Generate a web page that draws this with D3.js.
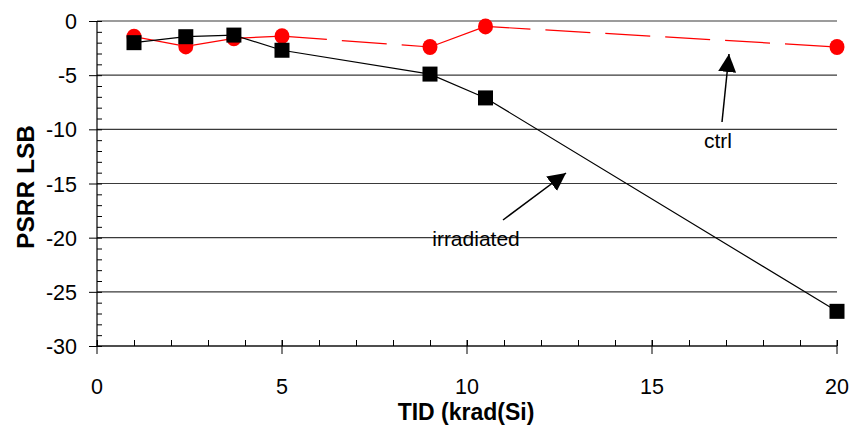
<!DOCTYPE html>
<html>
<head>
<meta charset="utf-8">
<script src="https://cdn.jsdelivr.net/npm/d3@7"></script>
<style>
  html, body { margin: 0; padding: 0; background: #fff; }
  svg { display: block; font-family: Arial, "Liberation Sans", sans-serif; }
</style>
</head>
<body>
<div id="chart"></div>
<script>
// TID dose points (krad(Si))
var tid = [1, 2.4, 3.7, 5, 9, 10.5, 20];
// PSRR LSB readings
var irradiated = [-2.0, -1.45, -1.3, -2.7, -4.9, -7.1, -26.8];
var ctrl = [-1.45, -2.35, -1.6, -1.4, -2.4, -0.5, -2.4];
// ctrl segments that bridge a gap between measurements (drawn dashed)
var ctrlGap = [false, false, false, true, false, true];

var xTicks = [0, 5, 10, 15, 20];
var yTicks = [0, -5, -10, -15, -20, -25, -30];

var width = 852, height = 431;
var margin = { top: 21, right: 15, bottom: 85, left: 97 };

var svg = d3.select("#chart").append("svg")
    .attr("width", width)
    .attr("height", height);

var x = d3.scaleLinear().domain([0, 20]).range([margin.left, 837]);
var y = d3.scaleLinear().domain([-30, 0]).range([346, margin.top]);

// horizontal gridlines
svg.append("g").selectAll("line")
    .data(yTicks)
    .enter().append("line")
    .attr("x1", x(0)).attr("x2", x(20))
    .attr("y1", d => y(d)).attr("y2", d => y(d))
    .attr("stroke", "#3a3a3a")
    .attr("stroke-width", 1.2);

// y axis: major ticks outward, minor ticks inward
svg.append("g")
    .attr("transform", "translate(" + x(0) + ",0)")
    .call(d3.axisLeft(y).tickValues(yTicks).tickSize(8).tickFormat(""))
    .call(g => g.select(".domain").remove())
    .selectAll("line").attr("stroke", "#000");
svg.append("g")
    .attr("transform", "translate(" + x(0) + ",0)")
    .call(d3.axisRight(y).tickValues(d3.range(-30, 1, 1)).tickSize(5).tickFormat(""))
    .call(g => g.select(".domain").remove())
    .selectAll("line").attr("stroke", "#000");
svg.append("line")
    .attr("x1", x(0)).attr("x2", x(0))
    .attr("y1", y(0)).attr("y2", y(-30))
    .attr("stroke", "#000").attr("stroke-width", 1.2);

// y tick labels
svg.append("g").selectAll("text")
    .data(yTicks)
    .enter().append("text")
    .attr("x", 77)
    .attr("y", d => y(d) + 8)
    .attr("text-anchor", "end")
    .attr("font-size", 21.5)
    .text(d => d);

// x axis: minor ticks upward, major ticks crossing
svg.append("g")
    .attr("transform", "translate(0," + y(-30) + ")")
    .call(d3.axisTop(x).tickValues(d3.range(0, 21, 1)).tickSize(6).tickFormat(""))
    .call(g => g.select(".domain").remove())
    .selectAll("line").attr("stroke", "#000");
svg.append("g").selectAll("line")
    .data(xTicks)
    .enter().append("line")
    .attr("x1", d => x(d)).attr("x2", d => x(d))
    .attr("y1", y(-30) - 6).attr("y2", y(-30) + 8)
    .attr("stroke", "#000");
svg.append("line")
    .attr("x1", x(0)).attr("x2", x(20))
    .attr("y1", y(-30)).attr("y2", y(-30))
    .attr("stroke", "#000").attr("stroke-width", 1.2);

// x tick labels
svg.append("g").selectAll("text")
    .data(xTicks)
    .enter().append("text")
    .attr("x", d => x(d))
    .attr("y", 394)
    .attr("text-anchor", "middle")
    .attr("font-size", 21.5)
    .text(d => d);

// axis titles
svg.append("text")
    .attr("x", 466)
    .attr("y", 420)
    .attr("text-anchor", "middle")
    .attr("font-size", 23)
    .attr("font-weight", "bold")
    .text("TID (krad(Si)");
svg.append("text")
    .attr("transform", "translate(34," + 187 + ") rotate(-90)")
    .attr("text-anchor", "middle")
    .attr("font-size", 24.5)
    .attr("font-weight", "bold")
    .text("PSRR LSB");

// ctrl line, segment by segment
var ctrlSegs = d3.range(tid.length - 1).map(i => ({
    x1: tid[i], y1: ctrl[i], x2: tid[i + 1], y2: ctrl[i + 1], gap: ctrlGap[i]
}));
svg.append("g").selectAll("line")
    .data(ctrlSegs)
    .enter().append("line")
    .attr("x1", d => x(d.x1)).attr("y1", d => y(d.y1))
    .attr("x2", d => x(d.x2)).attr("y2", d => y(d.y2))
    .attr("stroke", "#ff0000")
    .attr("stroke-width", 1.2)
    .attr("stroke-dasharray", d => d.gap ? "45,15" : null);

// irradiated line
var pts = tid.map((t, i) => [t, irradiated[i]]);
svg.append("path")
    .datum(pts)
    .attr("fill", "none")
    .attr("stroke", "#000")
    .attr("stroke-width", 1.2)
    .attr("d", d3.line().x(d => x(d[0])).y(d => y(d[1])));

// ctrl markers
svg.append("g").selectAll("ellipse")
    .data(tid.map((t, i) => [t, ctrl[i]]))
    .enter().append("ellipse")
    .attr("cx", d => x(d[0])).attr("cy", d => y(d[1]))
    .attr("rx", 7.5).attr("ry", 8)
    .attr("fill", "#ff0000");

// irradiated markers
svg.append("g").selectAll("rect")
    .data(pts)
    .enter().append("rect")
    .attr("x", d => x(d[0]) - 7.5).attr("y", d => y(d[1]) - 7.5)
    .attr("width", 15).attr("height", 15)
    .attr("fill", "#000");

// annotations with arrows
var defs = svg.append("defs");
defs.append("marker")
    .attr("id", "arrow")
    .attr("viewBox", "0 0 10 10")
    .attr("refX", 10).attr("refY", 5)
    .attr("markerWidth", 18).attr("markerHeight", 18)
    .attr("markerUnits", "userSpaceOnUse")
    .attr("orient", "auto")
    .append("path")
    .attr("d", "M0,0 L10,5 L0,10 Z")
    .attr("fill", "#000");

svg.append("line")
    .attr("x1", 722).attr("y1", 122)
    .attr("x2", 729).attr("y2", 54)
    .attr("stroke", "#000").attr("stroke-width", 1.5)
    .attr("marker-end", "url(#arrow)");
svg.append("text")
    .attr("x", 718).attr("y", 148)
    .attr("text-anchor", "middle")
    .attr("font-size", 21)
    .text("ctrl");

svg.append("line")
    .attr("x1", 503).attr("y1", 220)
    .attr("x2", 566).attr("y2", 173)
    .attr("stroke", "#000").attr("stroke-width", 1.5)
    .attr("marker-end", "url(#arrow)");
svg.append("text")
    .attr("x", 476).attr("y", 246)
    .attr("text-anchor", "middle")
    .attr("font-size", 21)
    .text("irradiated");
</script>
</body>
</html>
